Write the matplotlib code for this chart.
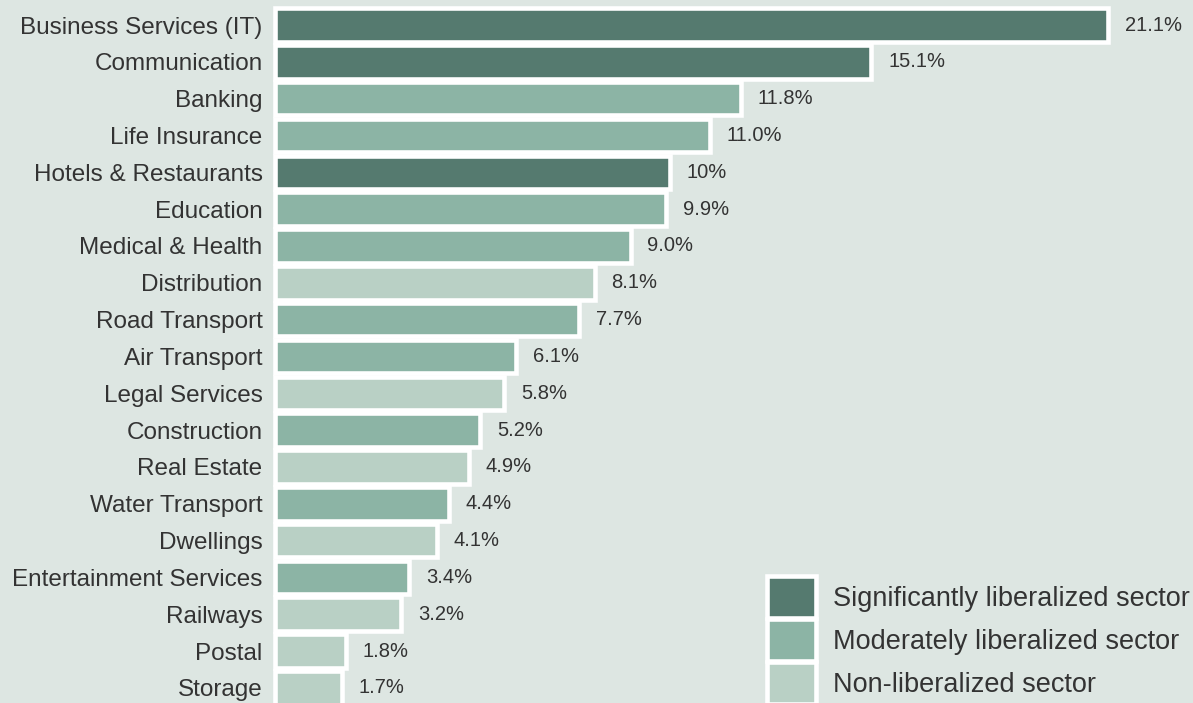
import matplotlib.pyplot as plt
from matplotlib.patches import Patch

sectors = ["Business Services (IT)", "Communication", "Banking", "Life Insurance",
           "Hotels & Restaurants", "Education", "Medical & Health", "Distribution",
           "Road Transport", "Air Transport", "Legal Services", "Construction",
           "Real Estate", "Water Transport", "Dwellings", "Entertainment Services",
           "Railways", "Postal", "Storage"]
share_text = ["21.1%", "15.1%", "11.8%", "11.0%", "10%", "9.9%", "9.0%", "8.1%",
              "7.7%", "6.1%", "5.8%", "5.2%", "4.9%", "4.4%", "4.1%", "3.4%",
              "3.2%", "1.8%", "1.7%"]
# S = significantly, M = moderately, N = non-liberalized
groups = ["S", "S", "M", "M", "S", "M", "M", "N", "M", "M", "N", "M", "N", "M",
          "N", "M", "N", "N", "N"]
group_names = {"S": "Significantly liberalized sector",
               "M": "Moderately liberalized sector",
               "N": "Non-liberalized sector"}

shares = [float(s.rstrip("%")) for s in share_text]

bg = "#dde6e2"
colours = {"S": "#557a6f", "M": "#8cb4a5", "N": "#b9d0c5"}
text_col = "#333333"

plt.rcParams['font.family'] = ['Liberation Sans', 'DejaVu Sans']

fig = plt.figure(figsize=(11.93, 7.03), dpi=100, facecolor=bg)
ax = fig.add_axes([275 / 1193, 0, 1 - 275 / 1193, 1])
ax.set_facecolor(bg)

pos = list(range(len(sectors)))
bars = ax.barh(pos, shares, height=0.91, color=[colours[g] for g in groups],
               edgecolor="white", linewidth=3.3)
for b in bars:
    b.set_clip_on(False)

for p, v, t in zip(pos, shares, share_text):
    ax.annotate(t, (v, p), xytext=(12, 0), textcoords="offset points",
                va="center", ha="left", fontsize=14.5, color=text_col)

ax.set_xlim(0, (1193 - 275) / 39.5)
ax.set_ylim(18.41, -0.68)
ax.set_yticks(pos)
ax.set_yticklabels(sectors, fontsize=17.5, color=text_col)
ax.tick_params(axis="y", length=0, pad=9)
ax.set_xticks([])
for s in ax.spines.values():
    s.set_visible(False)

# legend swatches stacked in the lower right corner
handles = [Patch(facecolor=colours[k], edgecolor="white", linewidth=3.3,
                 label=group_names[k]) for k in ["S", "M", "N"]]
fig.legend(handles=handles, loc="upper left",
           bbox_to_anchor=(767 / 1193, 1 - 576 / 703), frameon=False,
           fontsize=19.5, handlelength=1.8, handleheight=2.0, labelspacing=0.05,
           handletextpad=0.65, borderpad=0, borderaxespad=0,
           labelcolor=text_col)

fig.savefig("out.png", dpi=100, facecolor=bg)
